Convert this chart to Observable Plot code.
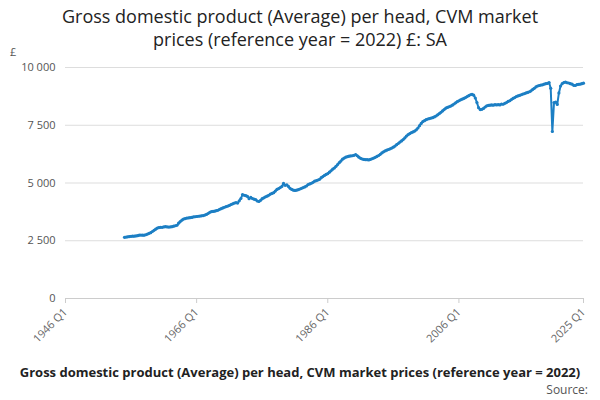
<!DOCTYPE html>
<html><head><meta charset="utf-8">
<script src="https://cdn.jsdelivr.net/npm/d3@7"></script>
<script src="https://cdn.jsdelivr.net/npm/@observablehq/plot@0.6"></script>
<style>
body{margin:0;width:600px;height:400px;overflow:hidden;font-family:"Open Sans",sans-serif;background:#fff;position:relative}
#title{position:absolute;top:5px;left:0;width:600px;text-align:center;font-size:18px;line-height:23px;color:#222}
#unit{position:absolute;top:44px;left:10px;font-size:11px;color:#555}
#chart{position:absolute;top:56px;left:0}
#cap{position:absolute;top:363px;left:-200px;width:1000px;text-align:center;font-size:13px;font-weight:bold;color:#222;white-space:nowrap}
#src{position:absolute;top:381px;right:12px;font-size:12px;color:#555}
</style></head><body>
<div id="title">Gross domestic product (Average) per head, CVM market<br>prices (reference year = 2022) £: SA</div>
<div id="unit">£</div>
<div id="chart"></div>
<div id="cap">Gross domestic product (Average) per head, CVM market prices (reference year = 2022)</div>
<div id="src">Source:</div>
<script>
const startYear = 1955;
const quarterly = [
2650,2660,2670,2680, 2690,2700,2700,2710, 2720,2740,2750,2740, 2740,2760,2790,2820,
2850,2900,2950,3000, 3050,3070,3080,3080, 3100,3110,3100,3090, 3100,3110,3130,3150,
3170,3260,3330,3390, 3440,3460,3480,3490, 3500,3510,3530,3540, 3550,3560,3570,3580,
3590,3610,3640,3680, 3730,3760,3770,3780, 3800,3820,3860,3890, 3920,3950,3980,4000,
4030,4070,4100,4130, 4150,4130,4230,4330, 4500,4470,4450,4420, 4320,4380,4330,4300,
4280,4220,4200,4250, 4320,4360,4400,4430, 4470,4520,4550,4580, 4650,4720,4760,4800,
4850,4980,4900,4920, 4850,4770,4720,4690, 4680,4690,4710,4740, 4770,4800,4830,4870,
4930,4960,4990,5030, 5080,5100,5130,5160, 5230,5280,5330,5370, 5410,5470,5530,5600,
5650,5720,5800,5880, 5950,6030,6080,6120, 6140,6160,6170,6180, 6200,6230,6180,6120,
6070,6040,6020,6010, 6010,6000,6020,6050, 6080,6110,6150,6190, 6240,6300,6350,6390,
6420,6450,6480,6510, 6550,6600,6660,6710, 6770,6820,6880,6950, 7030,7090,7140,7180,
7210,7250,7300,7380, 7480,7580,7660,7700, 7740,7770,7790,7810, 7830,7860,7900,7950,
8000,8060,8120,8180, 8240,8270,8300,8330, 8370,8420,8470,8520, 8560,8600,8630,8660,
8700,8740,8780,8820, 8840,8800,8680,8480, 8260,8180,8190,8230, 8290,8340,8360,8370,
8380,8370,8390,8380, 8390,8380,8420,8410, 8450,8480,8530,8560, 8610,8660,8700,8740,
8770,8790,8820,8850, 8870,8900,8920,8950, 8990,9050,9100,9160, 9200,9220,9240,9250,
9280,9300,9310,9350, 9100,7230,8480,8500, 8400,8900,9200,9300, 9350,9370,9340,9330,
9300,9280,9230,9220, 9260,9270,9280,9300, 9320
];
const xTicks = [1946, 1966, 1986, 2006, 2025];
const yTicks = [0, 2500, 5000, 7500, 10000];

const data = quarterly.map((v, i) => ({t: startYear + i / 4, v}));
const fmt = d => d3.format(",")(d).replace(/,/g, " ");

const chart = Plot.plot({
  width: 600, height: 306,
  marginTop: 11, marginBottom: 64, marginLeft: 65, marginRight: 17,
  style: {fontFamily: "Open Sans, sans-serif", fontSize: "11px", color: "#555"},
  x: {domain: [1946, 2025], ticks: xTicks, tickFormat: d => d + " Q1", tickRotate: -45, label: null, tickSize: 5},
  y: {domain: [0, 10000], ticks: yTicks, tickFormat: fmt, label: null, tickSize: 0, tickPadding: 10},
  marks: [
    Plot.gridY(yTicks, {stroke: "#ddd", strokeOpacity: 1}),
    Plot.ruleY([0], {stroke: "#ccc"}),
    Plot.axisX({ticks: xTicks, tickFormat: d => d + " Q1", tickRotate: -45, stroke: "#ccc", fill: "#666", tickSize: 5}),
    Plot.line(data, {x: "t", y: "v", stroke: "#1c7fc4", strokeWidth: 2}),
    Plot.dot(data, {x: "t", y: "v", fill: "#1c7fc4", r: 1.6})
  ]
});
document.getElementById("chart").append(chart);
</script>
</body></html>
